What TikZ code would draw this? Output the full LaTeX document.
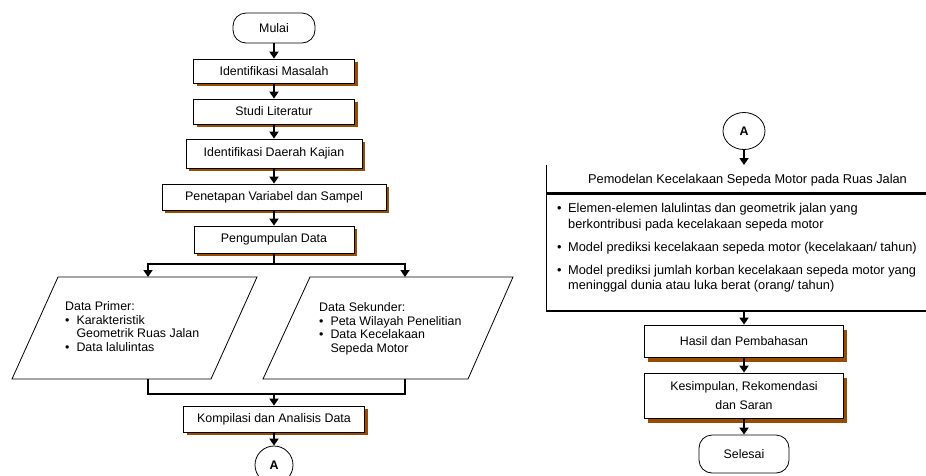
\documentclass[tikz,border=0pt]{standalone}
\usepackage{fontspec}
\setmainfont{Liberation Sans}
\usetikzlibrary{arrows.meta,shapes.geometric,shadows}
\definecolor{sbrown}{RGB}{153,76,0}
\begin{document}
\begin{tikzpicture}[x=1pt,y=-1pt,
  font=\fontsize{12.4}{13.5}\selectfont,
  box/.style={draw=black, line width=0.8pt, fill=white, inner sep=0pt,
    drop shadow={shadow xshift=3pt, shadow yshift=-3pt, fill=sbrown, opacity=1}},
  boxb/.style={draw=black, line width=0.8pt, fill=white, inner sep=0pt,
    drop shadow={shadow xshift=3pt, shadow yshift=-5pt, fill=sbrown, opacity=1}},
  term/.style={draw=black, line width=0.8pt, fill=white, rounded corners=13pt, inner sep=0pt},
  conn/.style={draw=black, line width=1.8pt, -{Triangle[width=9pt,length=7pt]}},
  ln/.style={draw=black, line width=1.8pt},
  para/.style={draw=black, line width=0.8pt, fill=white},
  conncirc/.style={draw=black, ellipse, line width=0.8pt, inner sep=0pt, font=\fontsize{12.4}{13.5}\selectfont\bfseries},
  txt/.style={inner sep=0pt, align=left}
]
\useasboundingbox (0,0) rectangle (926,475);

% ---------- left column ----------
\node[term, minimum width=82, minimum height=30] (mulai) at (274,28) {Mulai};
\node[box, minimum width=161, minimum height=24] (idm) at (274,71) {Identifikasi Masalah};
\node[box, minimum width=161, minimum height=25] (studi) at (274,111.5) {Studi Literatur};
\node[box, minimum width=176, minimum height=29] (idk) at (274,153.5) {Identifikasi Daerah Kajian};
\node[box, minimum width=224, minimum height=26] (pen) at (274,197) {Penetapan Variabel dan Sampel};
\node[box, minimum width=160, minimum height=27] (pd) at (274,239.5) {Pengumpulan Data};

\draw[conn] (mulai.south) -- (idm.north);
\draw[conn] (idm.south) -- (studi.north);
\draw[conn] (studi.south) -- (idk.north);
\draw[conn] (idk.south) -- (pen.north);
\draw[conn] (pen.south) -- (pd.north);

% branch
\coordinate (br) at (274,264);
\coordinate (pt) at (148,277);
\coordinate (st) at (405,277);
\draw[conn] (pd.south) -- (br) -| (pt);
\draw[conn] (br) -| (st);

% parallelograms
\draw[para] (58,277) -- (257,277) -- (211,379) -- (12,379) -- cycle;
\draw[para] (310,277) -- (513,277) -- (468,379) -- (263,379) -- cycle;

\node[txt, anchor=base west] (ptext) at (65,310.5) {%
  \begin{tabular}[t]{@{}l@{\hspace{7pt}}l@{}}
  \multicolumn{2}{@{}l@{}}{Data Primer:}\\
  \textbullet & Karakteristik\\
   & Geometrik Ruas Jalan\\
  \textbullet & Data lalulintas
  \end{tabular}};
\node[txt, anchor=base west] (stext) at (319,311.5) {%
  \begin{tabular}[t]{@{}l@{\hspace{7pt}}l@{}}
  \multicolumn{2}{@{}l@{}}{Data Sekunder:}\\
  \textbullet & Peta Wilayah Penelitian\\
  \textbullet & Data Kecelakaan\\
   & Sepeda Motor
  \end{tabular}};

% merge
\coordinate (pb) at (148,379);
\coordinate (sb) at (405,379);
\coordinate (mg) at (274,394);
\node[box, minimum width=181, minimum height=26] (komp) at (274,419) {Kompilasi dan Analisis Data};
\draw[ln] (pb) |- (mg) -| (sb);
\draw[conn] (mg) -- (komp.north);

\node[conncirc, minimum width=38, minimum height=38] (A1) at (274,465) {A};
\draw[conn] (komp.south) -- (A1.north);

% ---------- right column ----------
\node[conncirc, minimum width=42, minimum height=37] (A2) at (744,131) {A};
\coordinate (mtop) at (744,165);
\draw[conn] (A2.south) -- (mtop);

\draw[black, line width=0.8pt] (546,165) -- (546,311);
\draw[black, line width=3pt] (546,193) -- (926,193);
\draw[black, line width=2.5pt] (546,311) -- (926,311);

\node[inner sep=0pt, font=\fontsize{12.8}{13.5}\selectfont] (title) at (747.5,180) {Pemodelan Kecelakaan Sepeda Motor pada Ruas Jalan};

\node[txt, anchor=base west, font=\fontsize{12.8}{15.5}\selectfont] (items) at (557,212.5) {%
  \begin{tabular}[t]{@{}l@{\hspace{6.5pt}}l@{}}
  \textbullet & Elemen-elemen lalulintas dan geometrik jalan yang\\
   & berkontribusi pada kecelakaan sepeda motor\\[7.5pt]
  \textbullet & Model prediksi kecelakaan sepeda motor (kecelakaan/ tahun)\\[7.5pt]
  \textbullet & Model prediksi jumlah korban kecelakaan sepeda motor yang\\
   & meninggal dunia atau luka berat (orang/ tahun)
  \end{tabular}};

\coordinate (mbot) at (744,311);
\node[boxb, minimum width=199, minimum height=32] (hasil) at (744,341) {Hasil dan Pembahasan};
\node[boxb, minimum width=199, minimum height=45, align=center, font=\fontsize{12.4}{19}\selectfont] (kes) at (744,395.5) {Kesimpulan, Rekomendasi\\dan Saran};
\node[term, minimum width=90, minimum height=38] (sel) at (744,454) {Selesai};

\draw[conn] (mbot) -- (hasil.north);
\draw[conn] (hasil.south) -- (kes.north);
\draw[conn] (kes.south) -- (sel.north);
\end{tikzpicture}
\end{document}
